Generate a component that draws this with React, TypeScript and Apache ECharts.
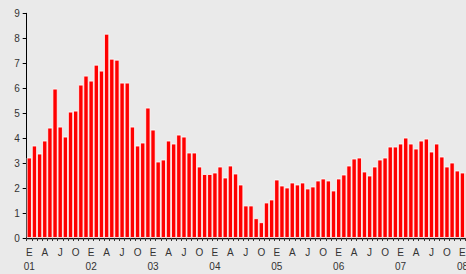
import React, { useEffect, useRef } from "react";
import * as echarts from "echarts";

const monthLetters = ["E", "F", "M", "A", "M", "J", "J", "A", "S", "O", "N", "D"];
const years = ["01", "02", "03", "04", "05", "06", "07", "08"];
const yTicks = [0, 1, 2, 3, 4, 5, 6, 7, 8, 9];

const values2001 = [3.22, 3.7, 3.38, 3.9, 4.42, 5.98, 4.46, 4.06, 5.06, 5.1, 6.14, 6.5];
const values2002 = [6.3, 6.94, 6.7, 8.18, 7.18, 7.14, 6.22, 6.22, 4.46, 3.7, 3.82, 5.22];
const values2003 = [4.34, 3.06, 3.14, 3.9, 3.78, 4.14, 4.06, 3.42, 3.42, 2.86, 2.56, 2.56];
const values2004 = [2.62, 2.86, 2.42, 2.9, 2.58, 2.14, 1.3, 1.3, 0.79, 0.63, 1.42, 1.54];
const values2005 = [2.34, 2.1, 2.02, 2.22, 2.14, 2.22, 1.98, 2.06, 2.3, 2.38, 2.3, 1.9];
const values2006 = [2.38, 2.54, 2.9, 3.18, 3.22, 2.66, 2.5, 2.86, 3.14, 3.22, 3.66, 3.66];
const values2007 = [3.78, 4.02, 3.78, 3.58, 3.9, 3.98, 3.46, 3.78, 3.26, 2.86, 3.02, 2.7];
const values2008 = [2.62, 2.62];

const allValues = [
  ...values2001, ...values2002, ...values2003, ...values2004,
  ...values2005, ...values2006, ...values2007, ...values2008,
];
const categories = allValues.map((_, i) => `${years[Math.floor(i / 12)]}-${i % 12}`);

export default function App() {
  const ref = useRef<HTMLDivElement>(null);
  useEffect(() => {
    document.body.style.overflow = "hidden";
    if (!ref.current) return;
    const chart = echarts.init(ref.current, undefined, { renderer: "svg" });
    const font = "Liberation Sans, Arial, sans-serif";
    chart.setOption({
      animation: false,
      backgroundColor: "#eaeaea",
      grid: { left: 26.7, top: 13.3, bottom: 35.3, right: 0, containLabel: false },
      xAxis: {
        type: "category",
        data: categories,
        boundaryGap: true,
        axisLine: { show: true, lineStyle: { color: "#000", width: 1.3 } },
        axisTick: { show: true, length: 3, interval: 0, lineStyle: { color: "#333" } },
        axisLabel: {
          interval: (index: number) => index % 3 === 0,
          margin: 7,
          fontSize: 10,
          lineHeight: 14.5,
          color: "#333",
          fontFamily: font,
          formatter: (value: string) => {
            const [yr, m] = value.split("-");
            const mi = parseInt(m, 10);
            return mi === 0 ? `${monthLetters[mi]}\n${yr}` : monthLetters[mi];
          },
        },
        splitLine: { show: false },
      },
      yAxis: {
        type: "value",
        min: yTicks[0],
        max: yTicks[yTicks.length - 1],
        interval: 1,
        axisLine: { show: true, lineStyle: { color: "#000", width: 1 } },
        axisTick: { show: true, length: 4, lineStyle: { color: "#000" } },
        axisLabel: { margin: 7, fontSize: 10, color: "#333", fontFamily: font },
        splitLine: { show: false },
      },
      series: [
        {
          type: "bar",
          data: allValues,
          barCategoryGap: "0%",
          itemStyle: { color: "#ff0000", borderColor: "#ffffff", borderWidth: 0.8 },
        },
      ],
    });
    return () => chart.dispose();
  }, []);
  return (
    <div
      ref={ref}
      style={{ position: "fixed", left: 0, top: 0, width: 471, height: 274 }}
    />
  );
}
